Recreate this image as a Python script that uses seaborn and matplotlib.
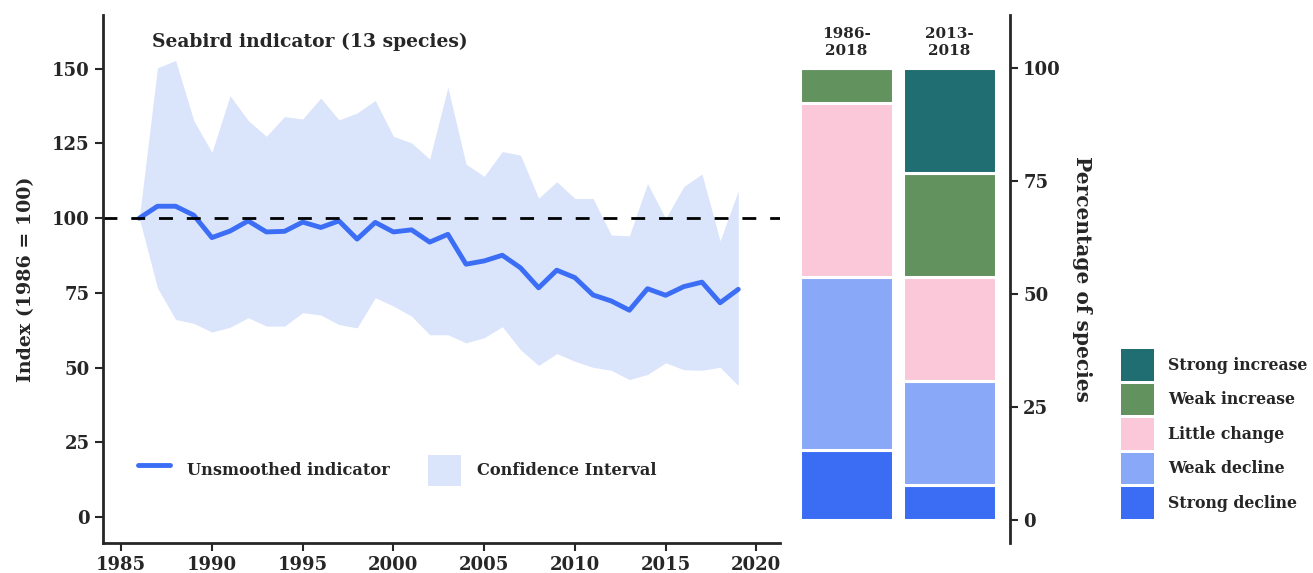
import numpy as np
import pandas as pd
import matplotlib
matplotlib.use("Agg")
import matplotlib.pyplot as plt
import matplotlib.patches as mpatches
import matplotlib.lines as mlines
import seaborn as sns

years = list(range(1986, 2020))
index_values = [100, 104, 104, 101, 93.5, 95.7, 99.1, 95.4, 95.6, 98.7, 96.9, 99.1, 93, 98.6,
                95.4, 96.1, 92, 94.6, 84.6, 85.7, 87.6, 83.4, 76.7, 82.6, 80.1, 74.3, 72.3,
                69.2, 76.4, 74.2, 77.1, 78.6, 71.7, 76.2]
ci_upper = [100, 150.3, 152.8, 132.7, 122, 141, 132.7, 127.4, 134, 133.2, 140.2, 132.9, 135.2,
            139.4, 127.4, 125.2, 119.8, 143.8, 118.1, 114, 122.3, 121.1, 106.7, 112.2, 106.6,
            106.6, 94.4, 94.1, 111.6, 99.9, 110.6, 114.8, 92.4, 109.2]
ci_lower = [100, 76.7, 66.1, 64.8, 61.9, 63.5, 66.7, 63.9, 63.9, 68.4, 67.6, 64.4, 63.3, 73.4,
            70.6, 67.2, 61, 61, 58.3, 60, 63.7, 56, 50.7, 54.7, 52.1, 50.1, 49.1, 46, 47.7,
            51.6, 49.3, 49.1, 50.1, 44]

periods = ["1986-\n2018", "2013-\n2018"]
categories = ["Strong decline", "Weak decline", "Little change", "Weak increase", "Strong increase"]
# percentage of the 13 species in each category, per period
pct_1986 = [2 / 13 * 100, 5 / 13 * 100, 5 / 13 * 100, 1 / 13 * 100, 0]
pct_2013 = [1 / 13 * 100, 3 / 13 * 100, 3 / 13 * 100, 3 / 13 * 100, 3 / 13 * 100]
cat_colors = ["#3a6cf4", "#89a8f8", "#fac8d8", "#62935f", "#216e72"]

line_color = "#3b6ef5"
ci_color = "#dae4fb"

sns.set_style("ticks")
plt.rcParams["font.family"] = ["DejaVu Serif"]
plt.rcParams["font.weight"] = "bold"

fig = plt.figure(figsize=(13.13, 5.73), dpi=100)
ax = fig.add_axes([103 / 1313, 30 / 573, 677 / 1313, 528 / 573])
ax2 = fig.add_axes([797 / 1313, 30 / 573, 213 / 1313, 528 / 573])

df = pd.DataFrame({"year": years, "index": index_values, "lo": ci_lower, "hi": ci_upper})

ax.fill_between(df["year"], df["lo"], df["hi"], color=ci_color, linewidth=0)
sns.lineplot(data=df, x="year", y="index", ax=ax, color=line_color, linewidth=3.5)
ax.axhline(100, color="black", linewidth=2, dashes=(5, 5))

ax.set_xlim(1984, 2021.3)
ax.set_ylim(-8.7, 168)
ax.set_xticks([1985, 1990, 1995, 2000, 2005, 2010, 2015, 2020])
ax.set_yticks([0, 25, 50, 75, 100, 125, 150])
ax.set_xlabel("")
ax.set_ylabel("Index (1986 = 100)", fontsize=13.7, fontweight="bold", labelpad=12)
ax.tick_params(labelsize=13, width=1.5, length=6)
for lab in ax.get_xticklabels() + ax.get_yticklabels():
    lab.set_fontweight("bold")
sns.despine(ax=ax)
ax.spines["left"].set_linewidth(2)
ax.spines["bottom"].set_linewidth(2)

ax.text(0.072, 0.949, "Seabird indicator (13 species)", transform=ax.transAxes,
        fontsize=13.5, fontweight="bold", va="center", ha="left")

h_line = mlines.Line2D([], [], color=line_color, linewidth=3.5)
h_ci = mpatches.Patch(color=ci_color, linewidth=0)
ax.legend([h_line, h_ci], ["Unsmoothed indicator", "Confidence Interval"], ncol=2,
          loc="lower left", bbox_to_anchor=(0.03, 0.08), frameon=False,
          handlelength=2.0, handleheight=2.6, handletextpad=1.0, columnspacing=2.4,
          prop={"weight": "bold", "size": 11.7})

# stacked bars
xpos = [0, 1]
bottoms = [0, 0]
for i, cat in enumerate(categories):
    vals = [pct_1986[i], pct_2013[i]]
    ax2.bar(xpos, vals, bottom=bottoms, width=0.9, color=cat_colors[i],
            edgecolor="white", linewidth=2.2, label=cat)
    bottoms = [b + v for b, v in zip(bottoms, vals)]

for x, lab in zip(xpos, periods):
    ax2.text(x, 102.3, lab, ha="center", va="bottom", fontsize=11, fontweight="bold",
             linespacing=1.25)

ax2.set_xlim(-0.48, 1.587)
ax2.set_ylim(-5.1, 111.8)
ax2.set_xticks([])
ax2.set_yticks([0, 25, 50, 75, 100])
ax2.yaxis.tick_right()
ax2.yaxis.set_label_position("right")
ax2.set_ylabel("Percentage of species", rotation=270, fontsize=14.5, fontweight="bold",
               labelpad=22)
ax2.tick_params(labelsize=13, width=1.5, length=6)
for lab in ax2.get_yticklabels():
    lab.set_fontweight("bold")
for s in ["top", "left", "bottom"]:
    ax2.spines[s].set_visible(False)
ax2.spines["right"].set_linewidth(2)

handles = [mpatches.Patch(color=c, linewidth=0) for c in cat_colors][::-1]
fig.legend(handles, categories[::-1], loc="upper left",
           bbox_to_anchor=(1107 / 1313, 1 - 335 / 573), frameon=False,
           handlelength=2.1, handleheight=2.7, handletextpad=0.9, labelspacing=0.2,
           prop={"weight": "bold", "size": 11.3})

fig.savefig("out.png", dpi=100)
